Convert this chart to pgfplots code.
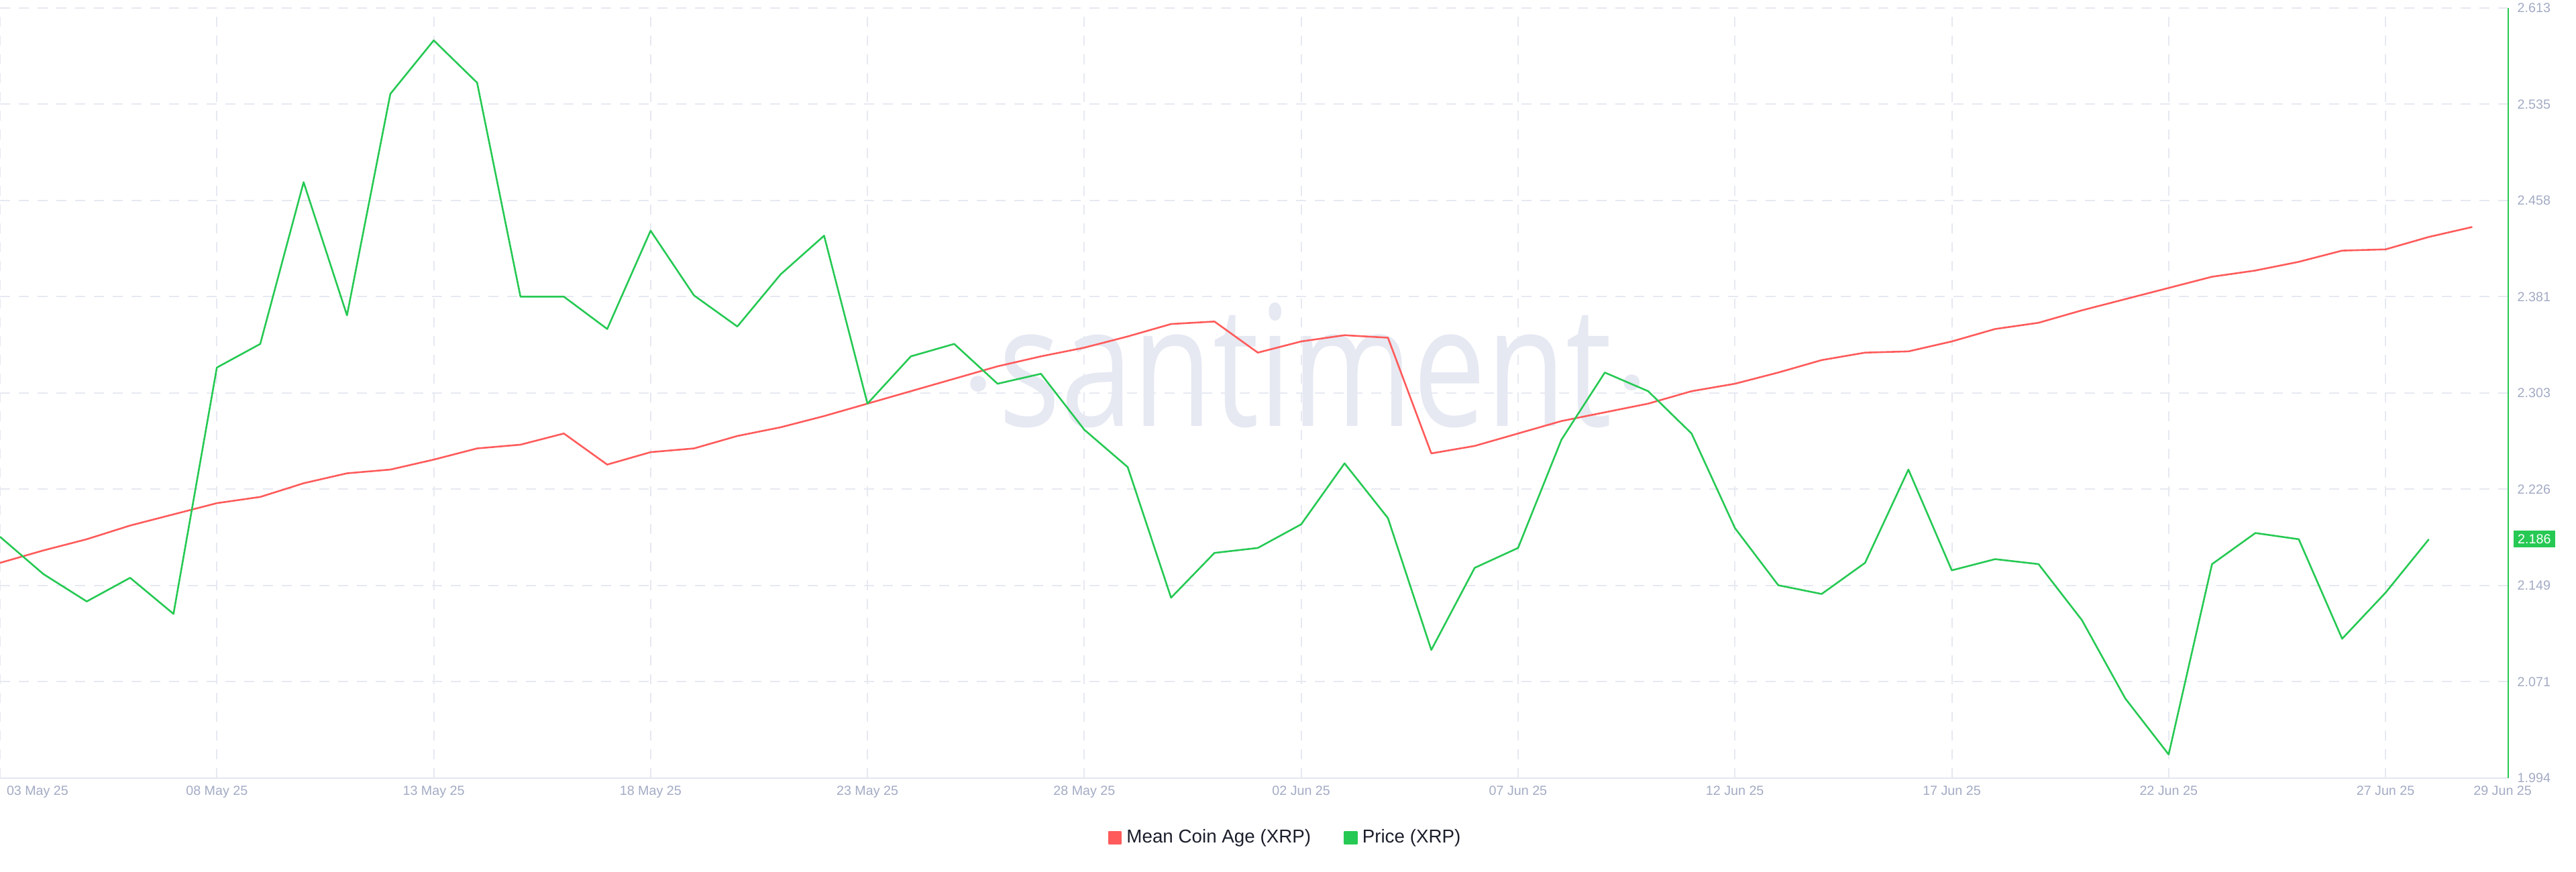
\documentclass[border=0pt]{standalone}
\usepackage{pgfplots}
\pgfplotsset{compat=1.18}
\usepackage{graphicx}
\usepackage{fontspec}
\setmainfont{Liberation Sans}
\newfontfamily\wmfont{Open Sans}
\definecolor{pgreen}{HTML}{26C953}
\definecolor{cred}{HTML}{FF5B5B}
\definecolor{tickc}{HTML}{A3ABC4}
\definecolor{gridc}{HTML}{E6E9F1}
\definecolor{wmc}{HTML}{E6E9F2}
\definecolor{legc}{HTML}{1B1E2B}
\definecolor{axc}{HTML}{E3E7EF}
\begin{document}
\begin{tikzpicture}
\useasboundingbox (0,-1.40) rectangle (38.4,11.60);
\begin{axis}[
  at={(0,0)}, anchor=south west,
  scale only axis, width=37.39cm, height=11.48cm,
  xmin=0, xmax=57.83, ymin=1.994, ymax=2.613,
  clip=false,
  axis x line*=bottom, axis y line*=right,
  x axis line style={axc, line width=0.2mm},
  y axis line style={pgreen, line width=0.2mm},
  major tick length=0pt,
  xmajorgrids, ymajorgrids,
  major grid style={gridc, line width=0.2mm, dash pattern=on 1.45mm off 1.35mm},
  xtick={0,5,...,55},
  xticklabels={\makebox[0pt][l]{\hspace{1mm}03 May 25},08 May 25,13 May 25,18 May 25,23 May 25,28 May 25,02 Jun 25,07 Jun 25,12 Jun 25,17 Jun 25,22 Jun 25,27 Jun 25},
  extra x ticks={57.7},
  extra x tick labels={29 Jun 25},
  extra x tick style={grid=none},
  ytick={1.994,2.071375,2.14875,2.226125,2.3035,2.380875,2.45825,2.535625,2.613},
  yticklabels={1.994,2.071,2.149,2.226,2.303,2.381,2.458,2.535,2.613},
  ticklabel style={font=\fontsize{5.6}{6.5}\selectfont, text=tickc},
  xticklabel style={anchor=north, inner sep=0pt, yshift=-1.1mm},
  yticklabel style={anchor=west, inner sep=0pt, xshift=1.3mm},
  legend style={at={(0.513,-0.0775)}, anchor=center, draw=none, fill=none,
    legend columns=2, font=\fontsize{7.9}{9}\selectfont, text=legc,
    /tikz/every even column/.append style={column sep=4.2mm}},
  legend image code/.code={\fill (0mm,-0.9mm) rectangle (1.8mm,0.9mm);},
  legend cell align=left,
]
% watermark
\node[anchor=base west, inner sep=0pt, text=wmc] at (axis cs:23.01,2.277) {\resizebox{9.14cm}{1.84cm}{\wmfont santiment}};
\fill[wmc] (axis cs:22.55,2.311) circle[radius=1.2mm];
\fill[wmc] (axis cs:37.62,2.312) circle[radius=1.2mm];

\addplot[color=cred, line width=0.26mm, line join=round] table {
0 2.167
1 2.177
2 2.186
3 2.197
4 2.206
5 2.215
6 2.220
7 2.231
8 2.239
9 2.242
10 2.250
11 2.259
12 2.262
13 2.271
14 2.246
15 2.256
16 2.259
17 2.269
18 2.276
19 2.285
20 2.295
21 2.305
22 2.315
23 2.325
24 2.333
25 2.340
26 2.349
27 2.359
28 2.361
29 2.336
30 2.345
31 2.350
32 2.348
33 2.255
34 2.261
35 2.271
36 2.281
37 2.288
38 2.295
39 2.305
40 2.311
41 2.320
42 2.330
43 2.336
44 2.337
45 2.345
46 2.355
47 2.360
48 2.370
49 2.379
50 2.388
51 2.397
52 2.402
53 2.409
54 2.418
55 2.419
56 2.429
57 2.437
};
\addlegendentry{Mean Coin Age (XRP)}
\addplot[color=pgreen, line width=0.26mm, line join=round] table {
0 2.188
1 2.158
2 2.136
3 2.155
4 2.126
5 2.324
6 2.343
7 2.473
8 2.366
9 2.544
10 2.587
11 2.553
12 2.381
13 2.381
14 2.355
15 2.434
16 2.382
17 2.357
18 2.399
19 2.430
20 2.295
21 2.333
22 2.343
23 2.311
24 2.319
25 2.274
26 2.244
27 2.139
28 2.175
29 2.179
30 2.198
31 2.247
32 2.203
33 2.097
34 2.163
35 2.179
36 2.266
37 2.320
38 2.305
39 2.271
40 2.195
41 2.149
42 2.142
43 2.167
44 2.242
45 2.161
46 2.170
47 2.166
48 2.121
49 2.058
50 2.013
51 2.166
52 2.191
53 2.186
54 2.106
55 2.143
56 2.186
};
\addlegendentry{Price (XRP)}
\node[fill=pgreen, text=white, anchor=west, inner xsep=0.65mm, inner ysep=0.55mm, font=\fontsize{5.6}{6.5}\selectfont] at ([xshift=0.7mm]axis cs:57.83,2.186) {2.186};
\end{axis}
\end{tikzpicture}
\end{document}
